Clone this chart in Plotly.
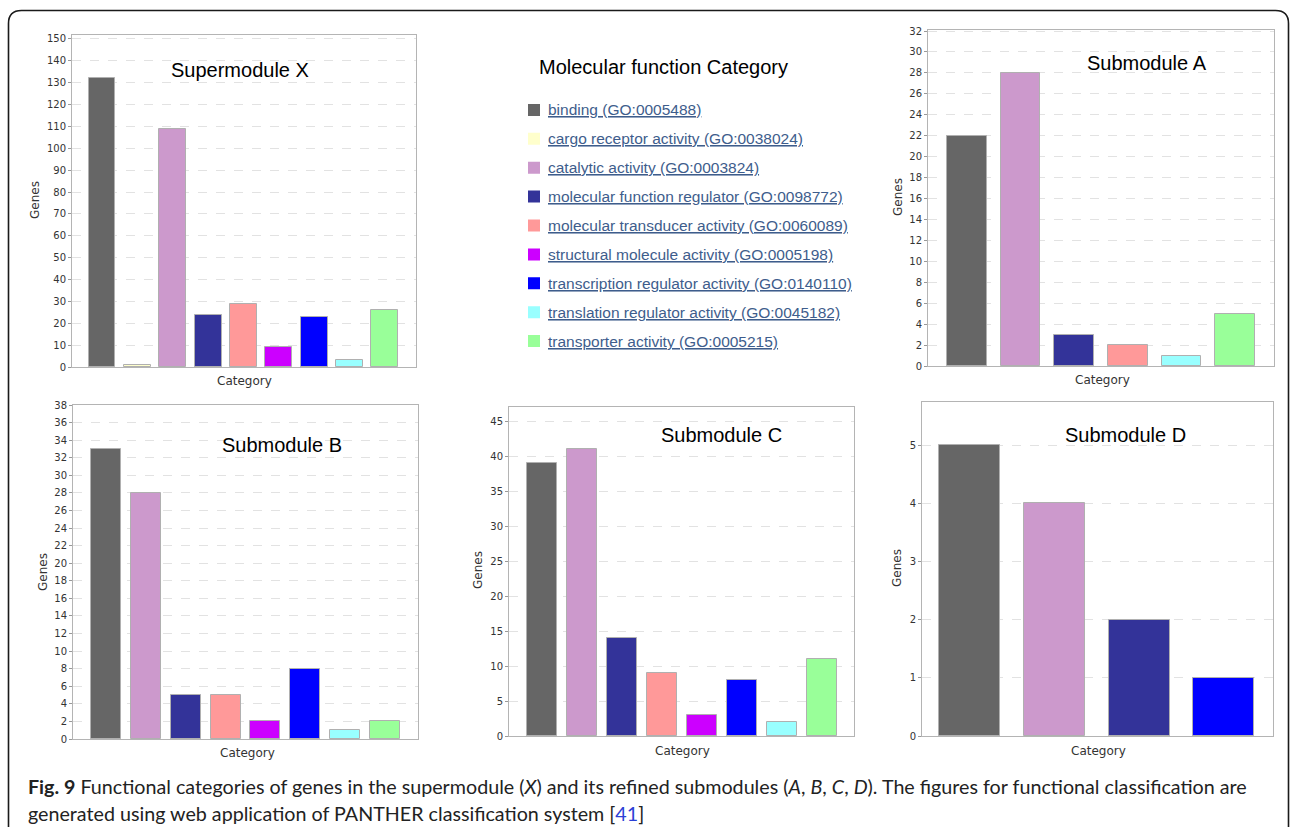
import plotly.graph_objects as go

W, H = 1290, 827

# ---------------- data ----------------
categories = [
    "binding (GO:0005488)",
    "cargo receptor activity (GO:0038024)",
    "catalytic activity (GO:0003824)",
    "molecular function regulator (GO:0098772)",
    "molecular transducer activity (GO:0060089)",
    "structural molecule activity (GO:0005198)",
    "transcription regulator activity (GO:0140110)",
    "translation regulator activity (GO:0045182)",
    "transporter activity (GO:0005215)",
]
colors = ["#666666", "#ffffcc", "#cc99cc", "#333399", "#ff9999",
          "#cc00ff", "#0000ff", "#99ffff", "#99ff99"]

x_cats = [0, 1, 2, 3, 4, 5, 6, 7, 8]
x_vals = [132, 1, 109, 24, 29, 9, 23, 3, 26]

a_cats = [0, 2, 3, 4, 7, 8]
a_vals = [22, 28, 3, 2, 1, 5]

b_cats = [0, 2, 3, 4, 5, 6, 7, 8]
b_vals = [33, 28, 5, 5, 2, 8, 1, 2]

c_cats = [0, 2, 3, 4, 5, 6, 7, 8]
c_vals = [39, 41, 14, 9, 3, 8, 2, 11]

d_cats = [0, 2, 3, 6]
d_vals = [5, 4, 2, 1]

panel_titles = ["Supermodule X", "Submodule A", "Submodule B", "Submodule C", "Submodule D"]
legend_title = "Molecular function Category"

# ---------------- layout helpers ----------------
def px(x):
    return x / W

def py(y):
    return 1 - y / H

panels = [
    dict(cats=x_cats, vals=x_vals, box=(72, 416, 35, 367), ymax=151.8, dtick=10,
         xr=(-0.85, 8.88), bw=0.76, title=(240, 70), genes=(35, 200), cat=(244, 381)),
    dict(cats=a_cats, vals=a_vals, box=(928, 1274, 30, 366), ymax=32.1, dtick=2,
         xr=(-0.72, 5.72), bw=0.74, title=(1147, 63), genes=(898, 197), cat=(1102, 380)),
    dict(cats=b_cats, vals=b_vals, box=(73, 418, 405, 739), ymax=38.0, dtick=2,
         xr=(-0.82, 7.82), bw=0.75, title=(282, 445), genes=(43, 572), cat=(247, 753)),
    dict(cats=c_cats, vals=c_vals, box=(509, 854, 407, 736), ymax=47.0, dtick=5,
         xr=(-0.83, 7.81), bw=0.75, title=(722, 435), genes=(478, 570), cat=(682, 751)),
    dict(cats=d_cats, vals=d_vals, box=(922, 1273, 402, 736), ymax=5.74, dtick=1,
         xr=(-0.56, 3.58), bw=0.72, title=(1125, 435), genes=(897, 568), cat=(1098, 751)),
]

fig = go.Figure()
layout = dict(
    width=W, height=H, margin=dict(l=0, r=0, t=0, b=0, pad=0, autoexpand=False),
    paper_bgcolor="white", plot_bgcolor="white", showlegend=False,
    bargap=0,
)
annotations = []
shapes = []

tick_font = dict(family="DejaVu Sans", size=10, color="#333333")
label_font = dict(family="DejaVu Sans", size=12, color="#333333")
title_font = dict(family="Liberation Sans, Arial", size=20, color="#000000")

for i, p in enumerate(panels):
    n = i + 1
    xa = "x" if n == 1 else f"x{n}"
    ya = "y" if n == 1 else f"y{n}"
    x0, x1, yt, yb = p["box"]
    fig.add_trace(go.Bar(
        x=list(range(len(p["vals"]))), y=p["vals"],
        marker=dict(color=[colors[c] for c in p["cats"]],
                    line=dict(color="#b0b0b0", width=1)),
        width=p["bw"], xaxis=xa, yaxis=ya, hoverinfo="skip",
        text=[categories[c] for c in p["cats"]], textposition="none",
    ))
    layout[f"xaxis{'' if n == 1 else n}"] = dict(
        domain=[px(x0), px(x1)], range=list(p["xr"]), anchor=ya,
        showticklabels=False, ticks="", showgrid=False, zeroline=False,
        showline=True, linecolor="#b4b4b4", linewidth=1, mirror=True,
        fixedrange=True,
    )
    layout[f"yaxis{'' if n == 1 else n}"] = dict(
        domain=[py(yb), py(yt)], range=[0, p["ymax"]], anchor=xa,
        dtick=p["dtick"], tick0=0, ticks="outside", ticklen=3, tickcolor="#999999",
        tickfont=tick_font, showgrid=True, gridcolor="#e2e2e2", griddash="dash",
        gridwidth=1, zeroline=False, showline=True, linecolor="#b4b4b4",
        linewidth=1, mirror=True, fixedrange=True,
    )
    tx, ty = p["title"]
    annotations.append(dict(text=panel_titles[i], x=px(tx), y=py(ty), xref="paper",
                            yref="paper", showarrow=False, font=title_font,
                            xanchor="center", yanchor="middle"))
    gx, gy = p["genes"]
    annotations.append(dict(text="Genes", x=px(gx), y=py(gy), xref="paper", yref="paper",
                            showarrow=False, font=label_font, textangle=-90,
                            xanchor="center", yanchor="middle"))
    cx, cy = p["cat"]
    annotations.append(dict(text="Category", x=px(cx), y=py(cy), xref="paper", yref="paper",
                            showarrow=False, font=label_font,
                            xanchor="center", yanchor="middle"))

# ---------------- legend (helper axis) ----------------
lx0, lx1, ly0, ly1 = 520, 880, 95.5, 355.5
fig.add_trace(go.Scatter(
    x=[0.0] * len(categories), y=list(range(len(categories))),
    mode="markers", marker=dict(symbol="square", size=12, color=colors,
                                line=dict(width=0)),
    xaxis="x6", yaxis="y6", hoverinfo="skip",
))
layout["xaxis6"] = dict(domain=[px(lx0), px(lx1)], range=[-14 / 360, 1 - 14 / 360],
                        visible=False, anchor="y6", fixedrange=True)
layout["yaxis6"] = dict(domain=[py(ly1), py(ly0)], range=[8.5, -0.5],
                        visible=False, anchor="x6", fixedrange=True)
for k, name in enumerate(categories):
    annotations.append(dict(text=f"<u>{name}</u>", x=12 / 360, y=k, xref="x6", yref="y6",
                            showarrow=False, xanchor="left", yanchor="middle",
                            font=dict(family="Liberation Sans, Arial", size=15.5,
                                      color="#3e5d8c")))
annotations.append(dict(text=legend_title, x=px(537), y=py(67), xref="paper", yref="paper",
                        showarrow=False, xanchor="left", yanchor="middle", font=title_font))

# ---------------- caption ----------------
cap_font = dict(family="Lato, Open Sans", size=19.7, color="#222222")
annotations.append(dict(
    text="<b>Fig. 9</b> Functional categories of genes in the supermodule (<i>X</i>) and its refined "
         "submodules (<i>A</i>, <i>B</i>, <i>C</i>, <i>D</i>). The figures for functional classification are",
    x=px(26), y=py(786), xref="paper", yref="paper", showarrow=False,
    xanchor="left", yanchor="middle", font=cap_font))
annotations.append(dict(
    text="generated using web application of PANTHER classification system "
         "[<span style='color:#2b3fd6'>41</span>]",
    x=px(26), y=py(813), xref="paper", yref="paper", showarrow=False,
    xanchor="left", yanchor="middle", font=cap_font))

# ---------------- outer rounded frame ----------------
def P(x, y):
    return f"{px(x):.5f},{py(y):.5f}"

r = 13
frame = (f"M {P(8.5, 900)} L {P(8.5, 10.5 + r)} Q {P(8.5, 10.5)} {P(8.5 + r, 10.5)} "
         f"L {P(1288.5 - r, 10.5)} Q {P(1288.5, 10.5)} {P(1288.5, 10.5 + r)} L {P(1288.5, 900)}")
shapes.append(dict(type="path", path=frame, xref="paper", yref="paper",
                   line=dict(color="#1a1a1a", width=1.6)))

layout["annotations"] = annotations
layout["shapes"] = shapes
fig.update_layout(**layout)
fig.write_html(
    "out.html",
    config={"displayModeBar": False, "responsive": False},
    post_script="document.body.style.margin='0';document.body.style.overflow='hidden';",
)
